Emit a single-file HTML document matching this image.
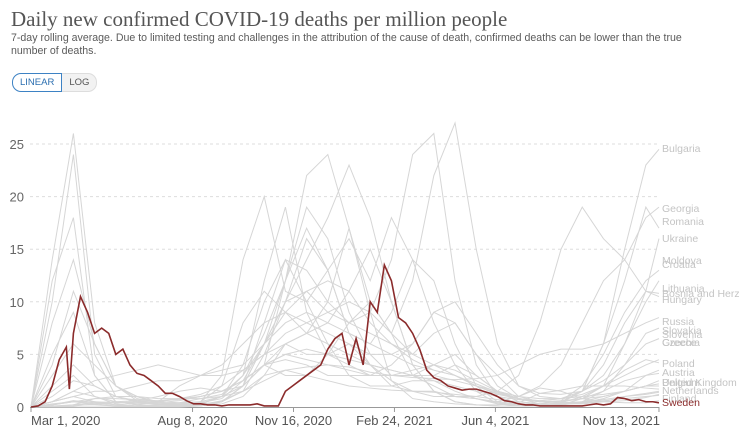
<!DOCTYPE html>
<html><head><meta charset="utf-8"><style>
body{margin:0;width:739px;height:429px;background:#fff;overflow:hidden;font-family:"Liberation Sans",sans-serif;position:relative}
#title{position:absolute;left:11px;top:7px;font-family:"Liberation Serif",serif;font-size:21px;color:#555;white-space:nowrap}
#sub{position:absolute;left:11px;top:32px;width:700px;font-size:10.6px;line-height:13px;color:#5b5b5b}
.btns{position:absolute;left:12px;top:73px;display:flex;font-size:9.5px}
.btn{height:17px;line-height:17px;padding:0 7px;border:1px solid #ddd;color:#555;background:#f2f2f2}
.b1{border:1px solid #3d82c4;border-radius:9px 0 0 9px;color:#2c6fb0;background:#fff}
.b2{border-radius:0 9px 9px 0;border-left:none}
svg{position:absolute;left:0;top:0}
</style></head><body>
<div id="title">Daily new confirmed COVID-19 deaths per million people</div>
<div id="sub">7-day rolling average. Due to limited testing and challenges in the attribution of the cause of death, confirmed deaths can be lower than the true number of deaths.</div>
<div class="btns"><div class="btn b1">LINEAR</div><div class="btn b2">LOG</div></div>
<svg id="c" width="739" height="429"></svg>
<script>
const gDays=[0,21,42,63,84,105,126,147,168,189,210,231,252,273,294,315,336,357,378,399,420,441,462,483,504,525,546,567,588,609,622];
const greySeries=[
[0,0,0.2,0.4,0.5,0.6,1,1.5,1.8,1.5,2,4,12,22,24,17,10,7,12,22,27,15,6,2,1,0.8,1.5,6,15,23,24.5],
[0,14,26,8,2,0.6,0.3,0.2,0.3,0.5,1.5,5,10,11,9,8,7,6,5,7,8,5,2,0.8,0.3,0.3,0.4,0.5,0.6,0.9,1.2],
[0,10,24,5,1,0.5,0.2,0.2,0.3,1,3,12,19,9,5,4,3,3,3,3,4,3,1.5,0.5,0.3,0.3,0.5,1,1.5,2,2],
[0,8,14,6,2,1,0.3,0.2,0.2,0.3,1,3,6,7,10,17,9,2.5,0.8,0.5,0.3,0.2,0.2,0.4,1.3,1.6,2,2,2,1.8,1.7],
[0,12,18,3,0.5,0.2,0.5,2,3,3,3.5,5,6,5,5,8,10,7,3,2,1,0.8,0.5,1,1.8,1.5,0.8,0.5,0.4,0.4,0.6],
[0,0.1,0.2,0.2,0.1,0.1,0.2,0.3,0.5,3,14,20,11,10,13,16,12,18,14,8,4,1.5,0.3,0.1,0.1,0.2,0.8,2,6,10,12],
[0,0.5,1,0.5,0.2,0.1,0.1,0.2,0.3,1,4,10,14,13,10,8,9,14,24,26,12,4,1,0.3,0.2,0.4,1.5,4,8,11,10.8],
[0,0,0,0,0,0,0.1,0.1,0.3,1,3,7,12,17,13,7,4,2,1.5,1,1,1,1.5,3,8,15,19,16,14,18,19],
[0,0.5,1,1.5,1.5,2,2.5,2.5,3,4,6,8,9,8,7,6,5,5,6,9,8,5,3,1,0.5,0.5,1.5,6,12,19,17],
[0,0,0.1,0.3,0.4,0.5,0.6,0.8,1,1.5,2.5,4,4.5,4,3,3,3,4,6,9,10,7,4,2,1.3,1.2,1.5,3,6,11,16],
[0,0,0.2,0.8,1,1,0.8,0.8,0.8,1,1.5,2.5,3.5,3.8,4,3.8,3.3,3,2.8,2.7,2.6,2.7,3,4,5,5.5,5.5,6,7,8,8.5],
[0,0,0,0,0,0,0,0,0.1,0.5,2,6,10,14,18,23,18,10,4,1.5,0.5,0.2,0.1,0.1,0.1,0.2,0.5,1.5,4,7,7.5],
[0,0.2,0.5,0.5,0.4,0.4,0.3,0.3,0.5,2,8,11,9,7,8,11,15,10,4,1.5,0.5,0.2,0.1,0.1,0.2,0.4,1,2,3.5,4.5,4.2],
[0,0.5,1.5,2.5,3,3.5,4,3.5,3,3.5,4,6,10,16,13,7,6,9,14,12,6,2,0.5,0.3,0.3,0.6,2,5,9,12,13],
[0,1.5,3,1,0.3,0.1,0.1,0.1,0.2,0.5,2,8,14,10,6,3,2,2,2.5,2.5,1.5,0.8,0.3,0.2,0.1,0.2,0.4,0.8,1.5,3,3.5],
[0,5,9,3,0.5,0.2,0.1,0.1,0.2,0.5,2,4,3,3,5,6,4,2.5,1.5,1.5,1,0.8,0.4,0.2,0.2,0.3,0.3,0.5,1,1.2,1.4],
[0,0.3,0.5,0.3,0.1,0.1,0.1,0.1,0.1,0.5,2,6,12,19,16,9,5,3,3,4,5,3,1.5,1,2,4,8,12,14,11,10.5],
[0,3,6,4,2,1,0.5,0.4,0.5,1,2,4,6,7,6,5,4,3.5,3,3,2.5,2,1.5,1,0.8,0.8,1,1.2,1.5,2,2.2],
[0,2,4,2,1,0.5,0.4,0.6,1,1.5,2.5,4,5,5.5,5,4.5,4,3.5,3,2.5,2,1.5,1,0.7,0.5,0.5,0.8,1,1.5,2,2.5],
[0,0.5,1.5,1,0.5,0.3,0.3,0.4,0.8,1.2,3,6,8,9,8,7,6,5,4,3.5,3,2,1.2,0.8,0.6,0.8,1.2,2,3,4,4.5],
[0,1,2.5,2,1,0.6,0.5,0.8,1.2,2,3.5,5,7,8,9,10,9,7,5,4,3,2,1.3,0.8,0.5,0.6,0.8,1.5,2.5,3,3.2],
[0,0.2,0.5,0.8,0.8,0.7,0.6,0.7,1,1.5,2.5,4,5,4.5,4,3.5,3,3,3.5,4,3.5,2.5,1.5,0.8,0.6,0.8,1.5,2.5,4,6,6.5],
[0,4,11,6,2,0.8,0.4,0.3,0.4,0.8,2.5,6,9,11,12,11,8,6,4.5,3.5,3,2.2,1.4,0.8,0.5,0.4,0.5,0.7,1,1.3,1.5],
[0,0.2,0.6,0.4,0.2,0.1,0.1,0.1,0.2,0.6,1.5,3,3.5,3,2.5,2,1.8,1.6,1.5,1.4,1.2,1,0.7,0.5,0.3,0.3,0.4,0.6,0.8,1,1.1]
];
const swedenDays=[0,7,14,21,28,35,38,42,49,56,63,70,77,84,91,98,105,112,119,126,133,140,147,154,161,168,175,182,189,196,203,210,217,224,231,238,245,252,259,266,273,280,287,294,301,308,315,322,329,336,343,350,357,364,371,378,385,392,399,406,413,420,427,434,441,448,455,462,469,476,483,490,497,504,511,518,525,532,539,546,553,560,567,574,581,588,595,602,609,616,622];
const swedenVals=[0,0.1,0.5,2,4.5,5.7,1.7,7,10.5,9,7,7.5,7,5,5.5,4,3.2,3,2.5,2,1.3,1.3,1,0.6,0.3,0.3,0.2,0.2,0.1,0.2,0.2,0.2,0.2,0.3,0.1,0.1,0.1,1.5,2,2.5,3,3.5,4,5.5,6.5,7,4,6.5,4,10,9,13.5,12,8.5,8,7,5.5,3.5,2.8,2.5,2,1.8,1.6,1.7,1.7,1.5,1.3,1,0.6,0.5,0.3,0.2,0.2,0.1,0.1,0.1,0.1,0.1,0.1,0.1,0.2,0.3,0.2,0.3,0.9,0.8,0.6,0.7,0.5,0.5,0.4];
const yTicks=[0,5,10,15,20,25];
const xTickDays=[0,160,260,360,460,622];
const xTickLabels=["Mar 1, 2020","Aug 8, 2020","Nov 16, 2020","Feb 24, 2021","Jun 4, 2021","Nov 13, 2021"];
const countryLabels=[["Bulgaria",148],["Georgia",208],["Romania",221],["Ukraine",238],["Moldova",260],["Croatia",264],["Lithuania",288],["Bosnia and Herze",293],["Hungary",299],["Russia",321],["Slovakia",330],["Slovenia",334],["Czechia",342],["Greece",342],["Poland",363],["Austria",372],["United Kingdom",382],["Belgium",382],["Netherlands",390],["Finland",398]];

const svg=document.getElementById('c');const NS='http://www.w3.org/2000/svg';
const X=d=>31+d*1.0096, Y=v=>407-v*10.52;
function mk(t,a){const e=document.createElementNS(NS,t);for(const k in a)e.setAttribute(k,a[k]);svg.appendChild(e);return e;}
yTicks.forEach(v=>{
 if(v>0){const g=mk('line',{x1:30,x2:658,y1:Y(v),y2:Y(v),stroke:'#ddd','stroke-dasharray':'3,3'});
 
 }
 const t=mk('text',{x:24,y:Y(v)+5,'text-anchor':'end','font-size':13,fill:'#666','font-family':'Liberation Sans'});t.textContent=v;
 
 
});
const ax=mk('line',{x1:30,x2:659,y1:407.5,y2:407.5,stroke:'#999'});


xTickDays.forEach((d,i)=>{
 mk('line',{x1:X(d),x2:X(d),y1:407,y2:412,stroke:'#999'});
 const t=mk('text',{x:i==0?31:X(d),y:425,'text-anchor':i==0?'start':(i==5?'end':'middle'),'font-size':13,fill:'#555','font-family':'Liberation Sans'});
 if(i==5)t.setAttribute('x',X(d)+1);
 t.textContent=xTickLabels[i];
 
 
});
greySeries.forEach((s,i)=>{
 const p=mk('polyline',{points:s.map((v,j)=>X(gDays[j])+','+Y(v)).join(' '),fill:'none',stroke:'#d6d6d6','stroke-width':1});
 
 
});
const sw=mk('polyline',{points:swedenVals.map((v,j)=>X(swedenDays[j])+','+Y(v)).join(' '),fill:'none',stroke:'#8b2b2b','stroke-width':1.6});


countryLabels.forEach(c=>{
 const t=mk('text',{x:662,y:c[1]+4,'font-size':10.5,fill:'#c4c4c4','font-family':'Liberation Sans'});t.textContent=c[0];
 
 
});
const sl=mk('text',{x:662,y:406,'font-size':10.5,fill:'#8b2b2b','font-family':'Liberation Sans'});sl.textContent='Sweden';


</script>
</body></html>
